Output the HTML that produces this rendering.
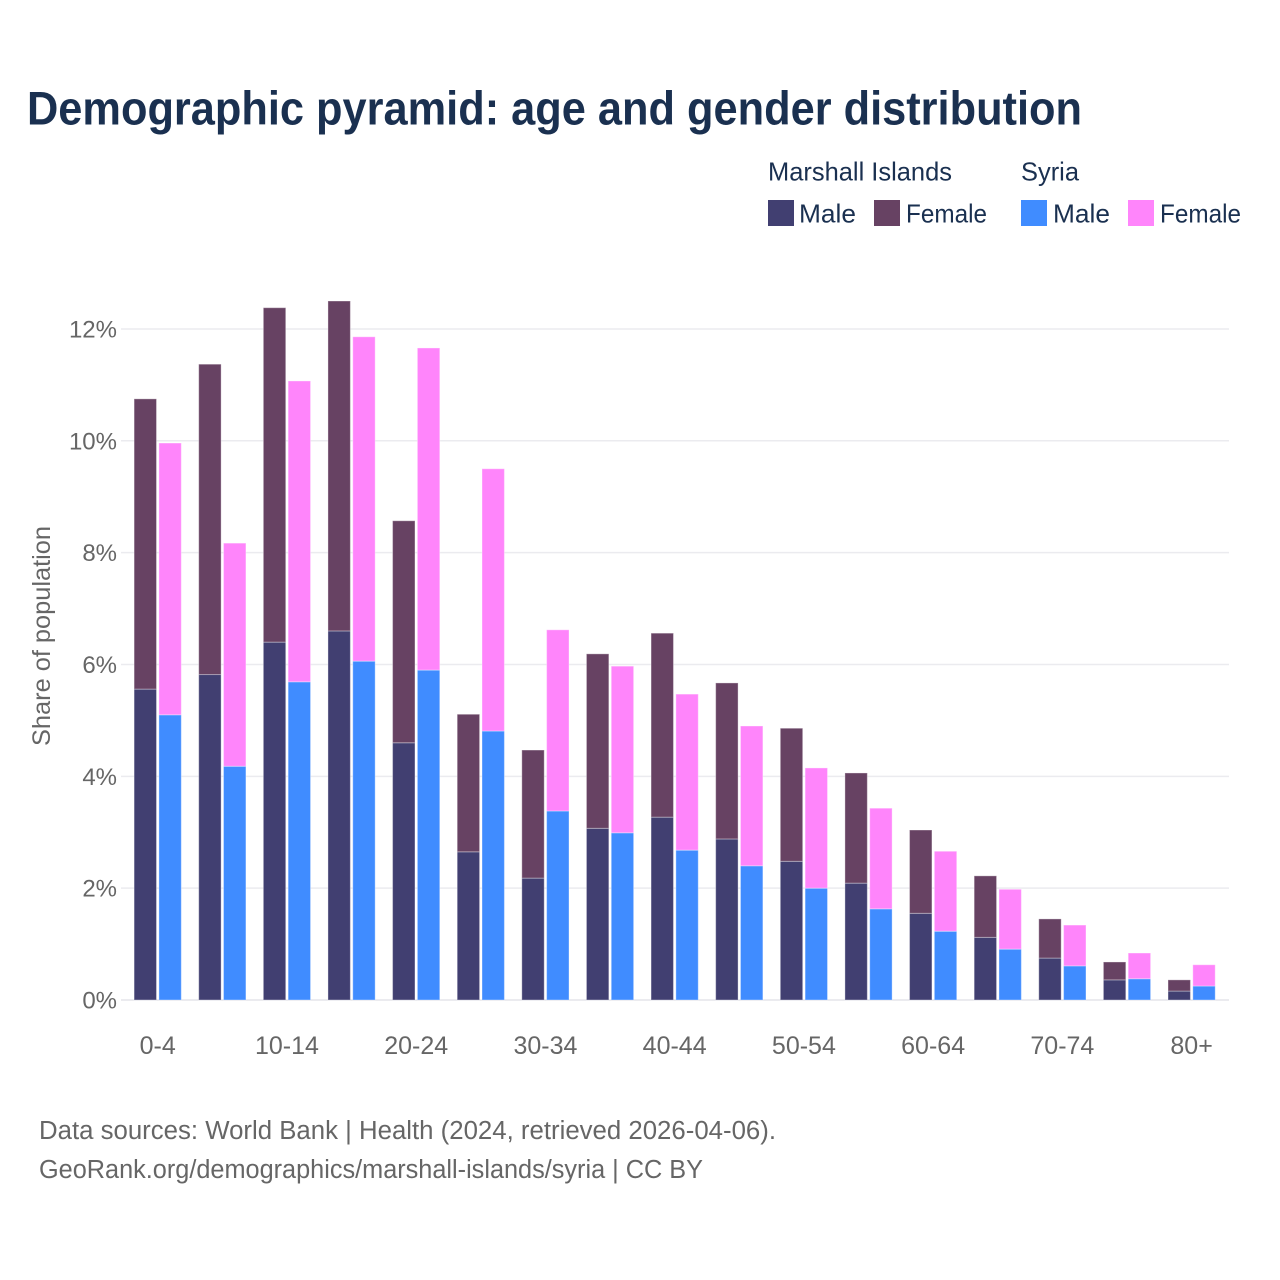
<!DOCTYPE html>
<html lang="en">
<head>
<meta charset="utf-8">
<title>Demographic pyramid</title>
<style>
html,body{margin:0;padding:0;background:#fff;}
svg{display:block;font-family:"Liberation Sans",sans-serif;}
</style>
</head>
<body>
<svg id="chart" width="1280" height="1280" viewBox="0 0 1280 1280" xmlns="http://www.w3.org/2000/svg">
<rect x="0" y="0" width="1280" height="1280" fill="#ffffff"/>
<text x="27" y="124.5" font-size="47" font-weight="700" fill="#1a3050" textLength="1055" lengthAdjust="spacingAndGlyphs">Demographic pyramid: age and gender distribution</text>
<g font-size="26" fill="#1a3050">
<text x="768" y="180.5" textLength="184" lengthAdjust="spacingAndGlyphs">Marshall Islands</text>
<text x="1021" y="180.5" textLength="58" lengthAdjust="spacingAndGlyphs">Syria</text>
<rect x="768" y="200" width="26" height="26" fill="#413f71"/>
<text x="799" y="222.5" textLength="57" lengthAdjust="spacingAndGlyphs">Male</text>
<rect x="874" y="200" width="26" height="26" fill="#674263"/>
<text x="906" y="222.5" textLength="81" lengthAdjust="spacingAndGlyphs">Female</text>
<rect x="1021" y="200" width="26" height="26" fill="#408cff"/>
<text x="1053" y="222.5" textLength="57" lengthAdjust="spacingAndGlyphs">Male</text>
<rect x="1128" y="200" width="26" height="26" fill="#ff85fb"/>
<text x="1160" y="222.5" textLength="81" lengthAdjust="spacingAndGlyphs">Female</text>
</g>
<g id="grid"></g>
<g id="bars"></g>
<g id="yticks" font-size="24" fill="#666666" text-anchor="end"></g>
<g id="xticks" font-size="25" fill="#666666" text-anchor="middle"></g>
<text transform="translate(50,746) rotate(-90)" x="0" y="0" font-size="25" fill="#666666" textLength="220" lengthAdjust="spacingAndGlyphs">Share of population</text>
<g font-size="25.5" fill="#666666">
<text x="39" y="1139" textLength="737" lengthAdjust="spacingAndGlyphs">Data sources: World Bank | Health (2024, retrieved 2026-04-06).</text>
<text x="39" y="1178" textLength="664" lengthAdjust="spacingAndGlyphs">GeoRank.org/demographics/marshall-islands/syria | CC BY</text>
</g>
</svg>
<script>
const categories = ["0-4","5-9","10-14","15-19","20-24","25-29","30-34","35-39","40-44","45-49","50-54","55-59","60-64","65-69","70-74","75-79","80+"];
const marshallMale = [5.56,5.82,6.40,6.60,4.60,2.65,2.18,3.07,3.27,2.88,2.48,2.09,1.55,1.12,0.75,0.36,0.16];
const marshallFemale = [5.19,5.55,5.98,5.90,3.97,2.46,2.29,3.12,3.29,2.79,2.38,1.97,1.49,1.10,0.70,0.32,0.20];
const syriaMale = [5.10,4.18,5.69,6.06,5.90,4.81,3.38,2.99,2.68,2.40,2.00,1.63,1.23,0.91,0.61,0.38,0.25];
const syriaFemale = [4.86,3.99,5.38,5.80,5.76,4.69,3.24,2.98,2.79,2.50,2.15,1.80,1.43,1.07,0.73,0.46,0.38];
const yTicks = [0,2,4,6,8,10,12];
const xLabelEvery = 2;

const NS = "http://www.w3.org/2000/svg";
const yScale = v => 1000 - v * 55.92;
const xCenter = i => 157.7 + i * 64.62;
const barW = 22.4;
const barGap = 2.4;

const grid = document.getElementById("grid");
const yG = document.getElementById("yticks");
const xG = document.getElementById("xticks");
const barsG = document.getElementById("bars");

yTicks.forEach(t => {
  const line = document.createElementNS(NS, "line");
  
  
  line.setAttribute("x1", 121);
  line.setAttribute("x2", 1229);
  line.setAttribute("y1", yScale(t));
  line.setAttribute("y2", yScale(t));
  line.setAttribute("stroke", "#ebebef");
  line.setAttribute("stroke-width", t === 0 ? 2 : 1.5);
  grid.appendChild(line);

  const label = document.createElementNS(NS, "text");
  
  
  label.setAttribute("x", 117);
  label.setAttribute("y", yScale(t) + 8.5);
  label.textContent = t + "%";
  yG.appendChild(label);
});

categories.forEach((c, i) => {
  if (i % xLabelEvery === 0) {
    const label = document.createElementNS(NS, "text");
    
    
    label.setAttribute("x", xCenter(i));
    label.setAttribute("y", 1054);
    label.textContent = c;
    xG.appendChild(label);
  }
});

function drawRect(x, v0, v1, fill) {
  const r = document.createElementNS(NS, "rect");
  r.setAttribute("x", x);
  r.setAttribute("y", yScale(v1));
  r.setAttribute("width", barW);
  r.setAttribute("height", yScale(v0) - yScale(v1));
  r.setAttribute("fill", fill);
  r.setAttribute("stroke", "#ffffff");
  r.setAttribute("stroke-opacity", "0.35");
  r.setAttribute("stroke-width", "1");
  barsG.appendChild(r);
  return r;
}

categories.forEach((c, i) => {
  const left = xCenter(i) - barGap / 2 - barW;
  const right = xCenter(i) + barGap / 2;
  const a = drawRect(left, 0, marshallMale[i], "#413f71");
  
  
  const b = drawRect(left, marshallMale[i], marshallMale[i] + marshallFemale[i], "#674263");
  
  
  const d = drawRect(right, 0, syriaMale[i], "#408cff");
  
  
  const e = drawRect(right, syriaMale[i], syriaMale[i] + syriaFemale[i], "#ff85fb");
  
  
});
</script>
</body>
</html>
